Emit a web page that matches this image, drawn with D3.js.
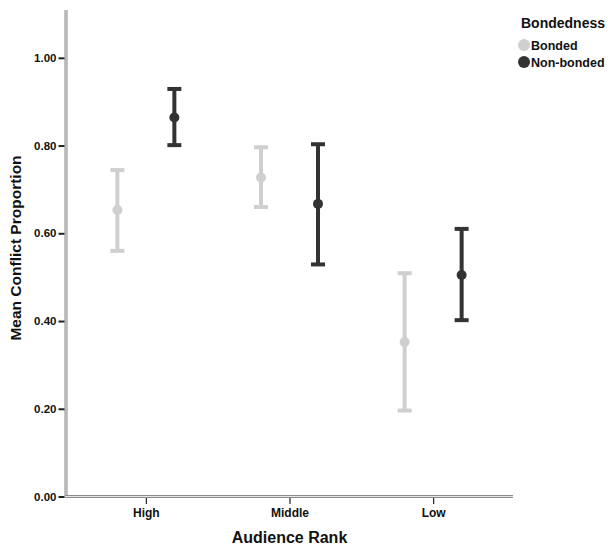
<!DOCTYPE html>
<html>
<head>
<meta charset="utf-8">
<script src="https://cdn.jsdelivr.net/npm/d3@7"></script>
<style>
  html, body { margin: 0; padding: 0; background: #fff; }
  svg text { font-family: "Liberation Sans", Arial, sans-serif; font-weight: bold; fill: #111; }
</style>
</head>
<body>
<svg id="chart" width="608" height="548"></svg>
<script>
// Audience rank categories and the two bondedness groups
const categories = ["High", "Middle", "Low"];
const groups = ["Bonded", "Non-bonded"];
// Mean conflict proportion with lower / upper error-bar ends, per group, in category order
const bondedMean  = [0.653, 0.727, 0.352];
const bondedLow   = [0.560, 0.660, 0.196];
const bondedHigh  = [0.744, 0.796, 0.509];
const nonMean     = [0.864, 0.667, 0.505];
const nonLow      = [0.801, 0.529, 0.402];
const nonHigh     = [0.929, 0.803, 0.610];
const yTicks = [0, 0.2, 0.4, 0.6, 0.8, 1.0];
const groupColors = ["#cfcfcf", "#333333"];

const rows = [];
categories.forEach((c, i) => {
  rows.push({cat: c, group: groups[0], mean: bondedMean[i], lo: bondedLow[i], hi: bondedHigh[i]});
  rows.push({cat: c, group: groups[1], mean: nonMean[i], lo: nonLow[i], hi: nonHigh[i]});
});

const svg = d3.select("#chart");
const plotLeft = 66, plotRight = 513, plotTop = 10, plotBottom = 496.5;
const fontFamily = '"Liberation Sans", Arial, sans-serif';

const x = d3.scalePoint().domain(categories).range([plotLeft, plotRight]).padding(0.556);
const y = d3.scaleLinear().domain([0, 1.109]).range([plotBottom, plotTop]);
const color = d3.scaleOrdinal().domain(groups).range(groupColors);
const dodge = d3.scalePoint().domain(groups).range([-28.5, 28.5]);

// Axis lines (double-ruled look)
function axisLine(x1, y1, x2, y2) {
  svg.append("line").attr("x1", x1).attr("y1", y1).attr("x2", x2).attr("y2", y2)
    .attr("stroke", "#8c8c8c").attr("stroke-width", 3);
  svg.append("line").attr("x1", x1).attr("y1", y1).attr("x2", x2).attr("y2", y2)
    .attr("stroke", "#e6e6e6").attr("stroke-width", 1);
}
axisLine(plotLeft, plotTop, plotLeft, plotBottom + 1);
axisLine(plotLeft - 1, plotBottom, plotRight, plotBottom);

// Y axis ticks and labels
const yAxis = d3.axisLeft(y).tickValues(yTicks).tickFormat(d3.format(".2f")).tickSize(6).tickPadding(2);
const gy = svg.append("g").attr("transform", `translate(${plotLeft - 1.5},0)`).call(yAxis);
gy.select(".domain").remove();
gy.selectAll(".tick line").attr("stroke", "#222").attr("stroke-width", 2);
gy.selectAll(".tick text").attr("font-size", 11.5).style("font-family", fontFamily)
  .style("font-weight", "bold").attr("fill", "#111");

// X axis ticks and labels
const xAxis = d3.axisBottom(x).tickSize(6).tickPadding(4);
const gx = svg.append("g").attr("transform", `translate(0,${plotBottom + 1.5})`).call(xAxis);
gx.select(".domain").remove();
gx.selectAll(".tick line").attr("stroke", "#222").attr("stroke-width", 1.2);
gx.selectAll(".tick text").attr("font-size", 12).style("font-family", fontFamily)
  .style("font-weight", "bold").attr("fill", "#111");

// Axis titles
svg.append("text").attr("x", x("Middle")).attr("y", 543).attr("text-anchor", "middle")
  .attr("font-size", 16).text("Audience Rank");
svg.append("text").attr("transform", "translate(21,248) rotate(-90)")
  .attr("text-anchor", "middle").attr("font-size", 15.5).text("Mean Conflict Proportion");

// Error bars with mean markers
const cap = 7;
const bars = svg.append("g").selectAll("g").data(rows).join("g")
  .attr("transform", d => `translate(${x(d.cat) + dodge(d.group)},0)`);
bars.append("line").attr("y1", d => y(d.lo)).attr("y2", d => y(d.hi))
  .attr("stroke", d => color(d.group)).attr("stroke-width", 4);
bars.append("line").attr("x1", -cap).attr("x2", cap).attr("y1", d => y(d.hi)).attr("y2", d => y(d.hi))
  .attr("stroke", d => color(d.group)).attr("stroke-width", 4);
bars.append("line").attr("x1", -cap).attr("x2", cap).attr("y1", d => y(d.lo)).attr("y2", d => y(d.lo))
  .attr("stroke", d => color(d.group)).attr("stroke-width", 4);
bars.append("circle").attr("cy", d => y(d.mean)).attr("r", 5).attr("fill", d => color(d.group));

// Legend
const legend = svg.append("g");
legend.append("text").attr("x", 521).attr("y", 28).attr("font-size", 14).text("Bondedness");
groups.forEach((g, i) => {
  legend.append("circle").attr("cx", 524).attr("cy", 45 + i * 17).attr("r", 6).attr("fill", color(g));
  legend.append("text").attr("x", 531).attr("y", 50 + i * 17).attr("font-size", 12.5).text(g);
});
</script>
</body>
</html>
